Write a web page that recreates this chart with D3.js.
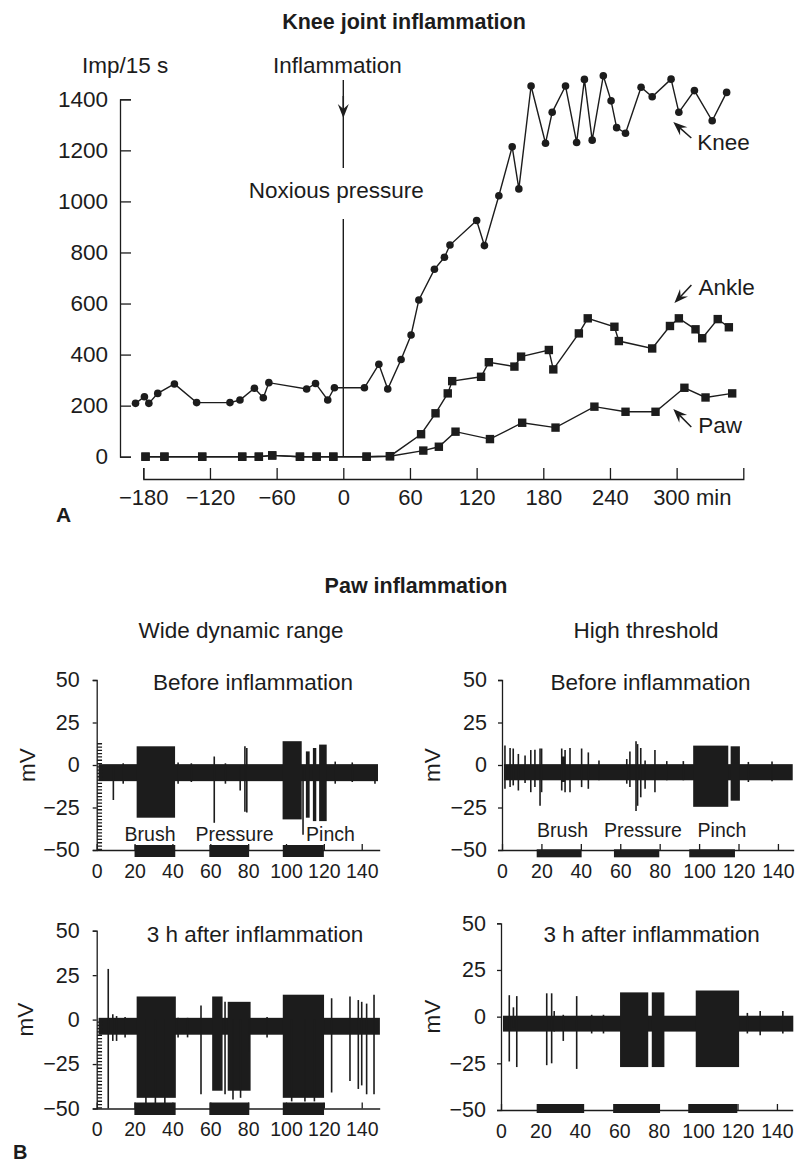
<!DOCTYPE html>
<html>
<head>
<meta charset="utf-8">
<script src="https://cdn.jsdelivr.net/npm/d3@7"></script>
<style>
  body { margin: 0; background: #fff; }
  svg text { font-family: "Liberation Sans", Arial, Helvetica, sans-serif; fill: #1c1c1c; }
</style>
</head>
<body>
<script>
// ---- A: knee joint inflammation (Imp/15 s vs min) ----
const kneeMin = [-187,-179,-175,-167,-152,-132,-102,-93,-80,-72,-67,-33,-25,-14,-8,19,32,40,52,61,68,82,91,96,120,127,140,152,158,169,182,188,200,210,217,224,234,241,246,254,268,278,295,302,316,332,345];
const kneeImp = [209,235,209,248,285,212,212,222,268,231,290,265,287,222,270,270,362,265,381,477,614,734,781,829,925,827,1022,1214,1049,1452,1228,1349,1452,1231,1478,1240,1492,1394,1289,1267,1447,1410,1479,1349,1434,1316,1427];

const ankleMin = [-178,-161,-127,-91,-76,-64,-39,-24,-9,21,42,70,83,94,98,124,131,154,160,185,189,212,220,244,248,278,294,302,317,323,337,347];
const ankleImp = [0,0,0,0,0,5,0,0,0,0,2,88,170,248,296,313,370,353,392,418,342,483,542,509,453,424,512,542,499,464,539,507];

const pawMin = [-178,-161,-127,-91,-76,-64,-39,-24,-9,21,42,72,86,101,132,161,191,226,254,281,307,326,350];
const pawImp = [0,0,0,0,0,5,0,0,0,0,2,24,39,98,69,133,114,196,176,176,270,232,248];

const impTicks = [0,200,400,600,800,1000,1200,1400];
const minTicks = [-180,-120,-60,0,60,120,180,240,300];

// arrow labels: where each arrow points (min, Imp)
const tagNames = ['Knee','Ankle','Paw'];
const tagMin = [297,298,297];
const tagImp = [1311,602,187];

// ---- B: paw inflammation, recordings (mV vs s) ----
const mvTicks = [-50,-25,0,25,50];
const secTicks = [0,20,40,60,80,100,120,140];
const stimNames = ['Brush','Pressure','Pinch'];

// [from, to, low, high]  /  spikes: [t, low, high]
const wdrBeforeBand = [[1,148.6,-9.5,0.5]];
const wdrBeforeBursts = [[21.1,41.4,-31,11],[98.2,108.3,-32,14],[110.5,112.5,-31,8],[114.2,116,-33,10],[117.5,121.5,-33,12]];
const wdrBeforeSpikes = [[8.8,-20.6,-1],[14,-11,1],[43,-11,1.5],[50,-10,1],[62.1,-34,5],[68,-11,1],[75.8,-15,0],[78.3,-27.5,11],[79.3,-28,10],[109,-41,0],[126,-11,2],[135,-10,1.5],[147,-11,0]];
const wdrBeforeComb = [[1.5,-50,13]];
const wdrBeforeStim = [[20,41.5],[59.5,80.5],[98.3,120]];
const wdrBeforeStimAt = [28.2,72.8,123.5];

const htBeforeBand = [[1,147.5,-9,0.5]];
const htBeforeBursts = [[30.3,32,-10,5],[97,114.8,-24.6,11.4],[116,120.7,-21,11]];
const htBeforeSpikes = [[1.5,-14,11.4],[4.1,-13,10],[5.7,-12,9.7],[8.3,-15,6.5],[11.7,-10.6,5.6],[14.6,-16,8.8],[16.7,-13,9],[19.3,-24,9.7],[20.1,-16,9.7],[30.3,-15,9.7],[32,-16,8.8],[34.5,-16,10],[40.4,-13,9.7],[43.8,-14,7.4],[49.2,-9,2.6],[63.3,-11,3.5],[64.9,-13,8],[68,-27,14],[68.8,-24,12.3],[70.4,-19,10],[72.6,-14,2.6],[77.6,-16,8.8],[83.6,-9,2.3],[92,-9,2.3],[125,-10,1.8],[137,-9.5,2]];
const htBeforeComb = [];
const htBeforeStim = [[17.6,40.4],[56.8,79.8],[95,118.2]];
const htBeforeStimAt = [30.7,71.5,111.6];

const wdrAfterBand = [[1,149.6,-8.5,1]];
const wdrAfterBursts = [[21.1,41.8,-44,13],[61,66.5,-40,13],[69.2,81.3,-40,10],[98.3,120.1,-44,14]];
const wdrAfterSpikes = [[6.1,-50,28.5],[8.5,-12,3],[10.5,-12,2],[15,-10,1.5],[26,-47,0],[31,-48,0],[36,-47,0],[43,-10,1],[48,-10,1],[55.1,-42,8],[67.8,-42,10],[72,-45,0],[76,-44,0],[80.5,-18,0],[90,-10,1.5],[103,-46,0],[110,-46,0],[115,-46,0],[124.1,-41,12],[133.8,-34.5,13],[138.2,-39,11],[140,-37,10],[142.6,-42,9],[146.5,-42,14]];
const wdrAfterComb = [[1.5,-50,0]];
const wdrAfterStim = [[19.9,41.7],[59.5,80.6],[98.3,120.1]];

const htAfterBand = [[1,148.3,-8,0.5]];
const htAfterBursts = [[60.4,74.7,-27,13],[76.5,82.9,-27,13],[98.8,120.8,-27,14]];
const htAfterSpikes = [[4.2,-24,11.5],[6.3,-6,5],[8,-27,11],[23.2,-26,12.5],[25.7,-25,12.5],[27,-8,3],[31.6,-13,1],[38.4,-28,11],[46,-9,1],[52,-9,1],[125,-9,2],[131.5,-10,3],[143,-9,3]];
const htAfterComb = [];
const htAfterStim = [[18.1,42.2],[56.9,80.7],[95,119.9]];

const ink = '#1c1c1c';
const FONT = '"Liberation Sans", Arial, Helvetica, sans-serif';

const svg = d3.select('body').append('svg')
    .attr('width', 804)
    .attr('height', 1164);

const styleAxis = (g, size) => {
    g.attr('font-size', size).attr('font-family', FONT).attr('color', ink);
    g.selectAll('path, line').attr('stroke-width', 1.3);
    g.selectAll('text').attr('fill', ink);
};

// barbed arrowhead with tip at (x2, y2)
const arrow = (g, x1, y1, x2, y2) => {
    const a = Math.atan2(y2 - y1, x2 - x1), L = 14, W = 5.5;
    const cx = Math.cos(a), sy = Math.sin(a);
    g.append('line')
        .attr('x1', x1).attr('y1', y1)
        .attr('x2', x2 - cx * L * 0.6).attr('y2', y2 - sy * L * 0.6)
        .attr('stroke', ink).attr('stroke-width', 1.5);
    g.append('path')
        .attr('d', `M${x2},${y2}L${x2 - cx * L - sy * W},${y2 - sy * L + cx * W}L${x2 - cx * L * 0.65},${y2 - sy * L * 0.65}L${x2 - cx * L + sy * W},${y2 - sy * L - cx * W}Z`)
        .attr('fill', ink);
};

// ================= A =================
const x = d3.scaleLinear().domain([-180, 360]).range([143.3, 743.3]);
const y = d3.scaleLinear().domain([0, 1400]).range([456.7, 99.3]);

const chartA = svg.append('g');

chartA.append('text')
    .attr('x', 404).attr('y', 29)
    .attr('text-anchor', 'middle')
    .attr('font-size', 21.5).attr('font-weight', 'bold')
    .text('Knee joint inflammation');

chartA.append('text')
    .attr('x', 82).attr('y', 72.7)
    .attr('font-size', 22.5)
    .text('Imp/15 s');

chartA.append('g')
    .attr('transform', 'translate(120,0)')
    .call(d3.axisLeft(y).tickValues(impTicks).tickFormat(d3.format('d')).tickSize(-11).tickPadding(12))
    .call(g => styleAxis(g, 22.5));

chartA.append('g')
    .attr('transform', 'translate(0,479)')
    .call(d3.axisBottom(x).tickValues(minTicks).tickSize(-11).tickPadding(10))
    .call(g => styleAxis(g, 22))
    .call(g => g.selectAll('.tick text')
        .filter(d => d === 300)
        .attr('text-anchor', 'start')
        .attr('dx', -24)
        .text('300 min'));

// inflammation / noxious pressure marker at t = 0
chartA.append('text')
    .attr('x', x(0) - 6).attr('y', 72.7)
    .attr('text-anchor', 'middle').attr('font-size', 22.5)
    .text('Inflammation');
chartA.append('line')
    .attr('x1', x(0)).attr('x2', x(0)).attr('y1', 80).attr('y2', 168)
    .attr('stroke', ink).attr('stroke-width', 1.4);
arrow(chartA, x(0), 96, x(0), 118);
chartA.append('text')
    .attr('x', x(0) - 7).attr('y', 198)
    .attr('text-anchor', 'middle').attr('font-size', 22.5)
    .text('Noxious pressure');
chartA.append('line')
    .attr('x1', x(0)).attr('x2', x(0)).attr('y1', 219).attr('y2', y(0))
    .attr('stroke', ink).attr('stroke-width', 1.4);

const line = d3.line().x(d => x(d[0])).y(d => y(d[1]));
const series = [
    { pts: d3.zip(kneeMin, kneeImp), shape: 'circle' },
    { pts: d3.zip(ankleMin, ankleImp), shape: 'square' },
    { pts: d3.zip(pawMin, pawImp), shape: 'square' }
];

series.forEach(s => {
    chartA.append('path')
        .attr('d', line(s.pts))
        .attr('fill', 'none')
        .attr('stroke', ink)
        .attr('stroke-width', 1.4);
});
series.forEach(s => {
    if (s.shape === 'circle') {
        chartA.append('g').selectAll('circle')
            .data(s.pts).join('circle')
            .attr('cx', d => x(d[0])).attr('cy', d => y(d[1]))
            .attr('r', 3.8).attr('fill', ink);
    } else {
        chartA.append('g').selectAll('rect')
            .data(s.pts).join('rect')
            .attr('x', d => x(d[0]) - 4.2).attr('y', d => y(d[1]) - 4.2)
            .attr('width', 8.4).attr('height', 8.4).attr('fill', ink);
    }
});

// arrow labels
const tagTail = [[18, 16], [17, -18], [18, 18]];
const tagText = [[24, 28], [24, -8], [25, 24]];
tagNames.forEach((name, i) => {
    const tx = x(tagMin[i]), ty = y(tagImp[i]);
    arrow(chartA, tx + tagTail[i][0], ty + tagTail[i][1], tx, ty);
    chartA.append('text')
        .attr('x', tx + tagText[i][0]).attr('y', ty + tagText[i][1])
        .attr('font-size', 22.5)
        .text(name);
});

chartA.append('text')
    .attr('x', 56).attr('y', 522)
    .attr('font-size', 21).attr('font-weight', 'bold')
    .text('A');

// ================= B =================
svg.append('text')
    .attr('x', 416).attr('y', 593)
    .attr('text-anchor', 'middle')
    .attr('font-size', 21.5).attr('font-weight', 'bold')
    .text('Paw inflammation');

svg.append('text').attr('x', 241).attr('y', 638).attr('text-anchor', 'middle')
    .attr('font-size', 22.5).text('Wide dynamic range');
svg.append('text').attr('x', 646).attr('y', 638).attr('text-anchor', 'middle')
    .attr('font-size', 22.5).text('High threshold');

const panels = [
    { band: wdrBeforeBand, bursts: wdrBeforeBursts, spikes: wdrBeforeSpikes, comb: wdrBeforeComb,
      stim: wdrBeforeStim, stimAt: wdrBeforeStimAt, title: 'Before inflammation',
      x0: 96.7, x1: 379.7, xMax: 149.5, yBot: 850, yTop: 680, yPad: 13,
      titleX: 253, titleY: 690, mvX: 27, barTop: -5, barH: 12, stimY: 840.7 },
    { band: htBeforeBand, bursts: htBeforeBursts, spikes: htBeforeSpikes, comb: htBeforeComb,
      stim: htBeforeStim, stimAt: htBeforeStimAt, title: 'Before inflammation',
      x0: 502, x1: 793.7, xMax: 148, yBot: 850, yTop: 680, yPad: 11,
      titleX: 650.5, titleY: 690, mvX: 432, barTop: -0.7, barH: 8, stimY: 836.7 },
    { band: wdrAfterBand, bursts: wdrAfterBursts, spikes: wdrAfterSpikes, comb: wdrAfterComb,
      stim: wdrAfterStim, stimAt: null, title: '3 h after inflammation',
      x0: 96.7, x1: 379.7, xMax: 149.5, yBot: 1108.5, yTop: 930.7, yPad: 13,
      titleX: 255, titleY: 942, mvX: 25, barTop: -6, barH: 12.5 },
    { band: htAfterBand, bursts: htAfterBursts, spikes: htAfterSpikes, comb: htAfterComb,
      stim: htAfterStim, stimAt: null, title: '3 h after inflammation',
      x0: 501, x1: 792.7, xMax: 148, yBot: 1110, yTop: 923.3, yPad: 11,
      titleX: 651.7, titleY: 942, mvX: 432, barTop: -6, barH: 9 }
];

panels.forEach(p => {
    const xs = d3.scaleLinear().domain([0, p.xMax]).range([p.x0, p.x1]);
    const ys = d3.scaleLinear().domain([-50, 50]).range([p.yBot, p.yTop]);
    const g = svg.append('g');

    // recording trace
    g.append('g').selectAll('rect')
        .data(p.band.concat(p.bursts)).join('rect')
        .attr('x', d => xs(d[0])).attr('width', d => xs(d[1]) - xs(d[0]))
        .attr('y', d => ys(d[3])).attr('height', d => ys(d[2]) - ys(d[3]))
        .attr('fill', ink);
    g.append('g').selectAll('line')
        .data(p.spikes).join('line')
        .attr('x1', d => xs(d[0])).attr('x2', d => xs(d[0]))
        .attr('y1', d => ys(d[1])).attr('y2', d => ys(d[2]))
        .attr('stroke', ink).attr('stroke-width', 1.6);
    g.append('g').selectAll('line')
        .data(p.comb).join('line')
        .attr('x1', d => xs(d[0])).attr('x2', d => xs(d[0]))
        .attr('y1', d => ys(d[1])).attr('y2', d => ys(d[2]))
        .attr('stroke', ink).attr('stroke-width', 5)
        .attr('stroke-dasharray', '1.3 2');

    // axes
    g.append('g')
        .attr('transform', `translate(${p.x0},0)`)
        .call(d3.axisLeft(ys).tickValues(mvTicks).tickSize(4).tickPadding(p.yPad))
        .call(a => styleAxis(a, 21.5));
    g.append('g')
        .attr('transform', `translate(0,${p.yBot})`)
        .call(d3.axisBottom(xs).tickValues(secTicks).tickSizeInner(-6).tickSizeOuter(0).tickPadding(14))
        .call(a => styleAxis(a, 19.5));

    // stimulus bars
    g.append('g').selectAll('rect')
        .data(p.stim).join('rect')
        .attr('x', d => xs(d[0])).attr('width', d => xs(d[1]) - xs(d[0]))
        .attr('y', p.yBot + p.barTop).attr('height', p.barH)
        .attr('fill', ink);
    if (p.stimAt) {
        g.append('g').selectAll('text')
            .data(stimNames).join('text')
            .attr('x', (d, i) => xs(p.stimAt[i])).attr('y', p.stimY)
            .attr('text-anchor', 'middle').attr('font-size', 19.5)
            .text(d => d);
    }

    g.append('text')
        .attr('x', p.titleX).attr('y', p.titleY)
        .attr('text-anchor', 'middle').attr('font-size', 22.5)
        .text(p.title);
    g.append('text')
        .attr('transform', `translate(${p.mvX + 8},${ys(0)}) rotate(-90)`)
        .attr('text-anchor', 'middle').attr('font-size', 22.5)
        .text('mV');
});

svg.append('text')
    .attr('x', 13).attr('y', 1159)
    .attr('font-size', 20).attr('font-weight', 'bold')
    .text('B');
</script>
</body>
</html>
